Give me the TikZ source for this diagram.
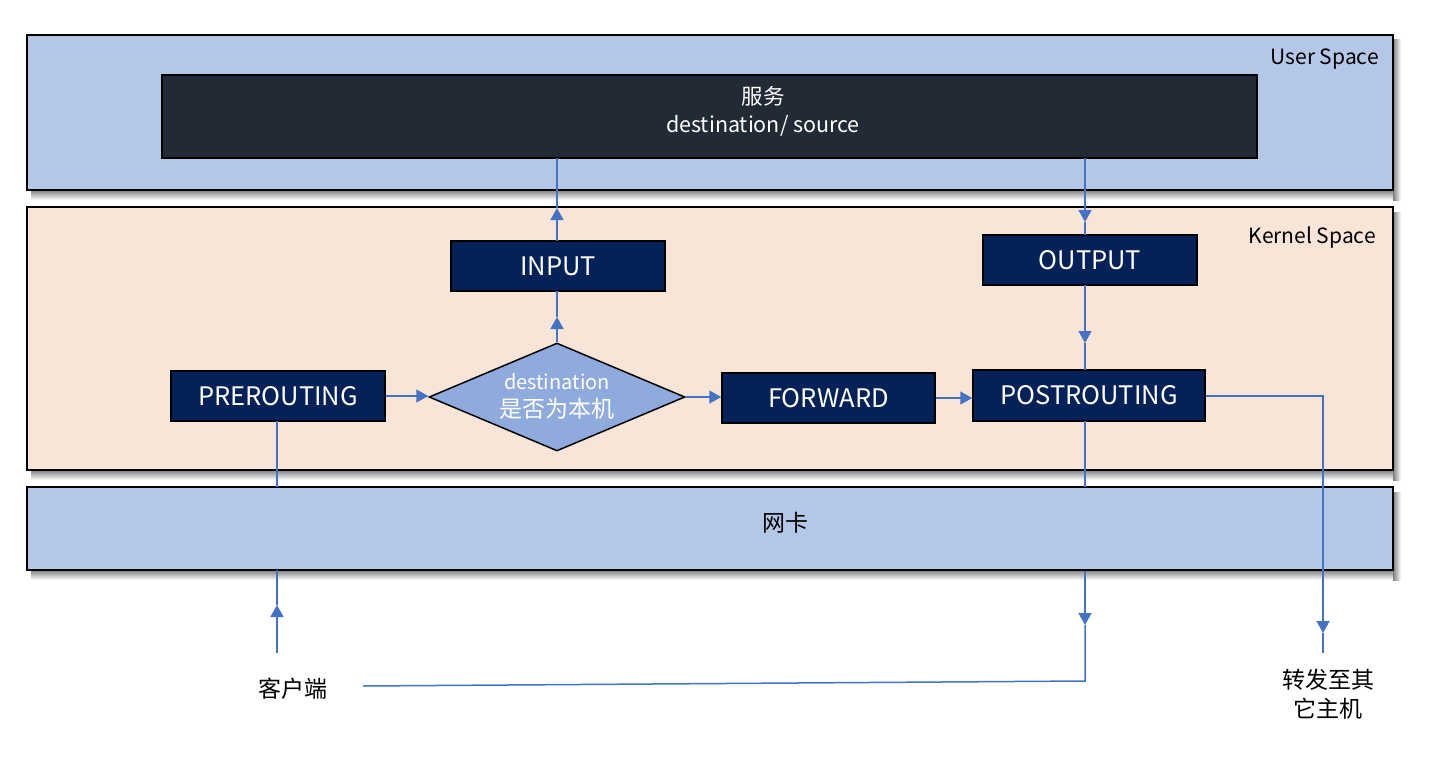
\documentclass[tikz,border=0pt]{standalone}
\usepackage{fontspec}
\setmainfont{Noto Sans CJK SC}
\usetikzlibrary{arrows.meta,shapes.geometric}
\definecolor{userbg}{HTML}{B4C7E7}
\definecolor{kernbg}{HTML}{F8E5D7}
\definecolor{navy}{HTML}{042158}
\definecolor{svcbg}{HTML}{222A35}
\definecolor{linkc}{HTML}{4472C4}
\definecolor{diambg}{HTML}{8FAADC}
\tikzset{
  layer/.style={draw=black, line width=1.5pt, rectangle, inner sep=0pt},
  navybox/.style={draw=black, line width=1.5pt, fill=navy, text=white, rectangle, inner sep=0pt,
                  minimum width=214pt, minimum height=50pt, font=\fontsize{25.5}{29}\selectfont},
  flow/.style={draw=linkc, line width=1.5pt},
  tip/.style={-{Triangle[width=13pt,length=12pt]}},
  lbl/.style={inner sep=0pt, font=\fontsize{21}{26}\selectfont},
  cjk/.style={inner sep=0pt, align=center, font=\fontsize{23}{29}\selectfont},
}
\newcommand{\shadowbox}[4]{%
  \shade[top color=black!50, bottom color=white] (#1+4,#4) rectangle (#3+7,#4+10);
  \shade[left color=black!50, right color=white] (#3,#2+5) rectangle (#3+8,#4+10);
}
\begin{document}
\begin{tikzpicture}[x=1pt,y=-1pt]
\useasboundingbox (0,0) rectangle (1434,768);
\fill[white] (0,0) rectangle (1434,768);

% shadows
\shadowbox{27}{35}{1393}{190}
\shadowbox{27}{207}{1393}{470}
\shadowbox{27}{487}{1393}{570}

% layers
\node[layer, fill=userbg, minimum width=1366pt, minimum height=155pt] (user) at (710,112.5) {};
\node[layer, fill=kernbg, minimum width=1366pt, minimum height=263pt] (kern) at (710,338.5) {};
\node[layer, fill=userbg, minimum width=1366pt, minimum height=83pt] (nic) at (710,528.5) {};

\node[lbl, anchor=east] (userlbl) at (1379,59) {User Space};
\node[lbl, anchor=east] (kernlbl) at (1376,238) {Kernel Space};
\node[cjk] (niclbl) at (785,523) {网卡};

% service
\node[draw=black, line width=1.5pt, fill=svcbg, rectangle, inner sep=0pt,
      minimum width=1095pt, minimum height=83pt] (svc) at (709.5,116.5) {};
\node[inner sep=0pt, align=center, text=white, font=\fontsize{21.5}{28}\selectfont] (svclbl) at (763,111)
  {服务\\destination/ source};

% chain boxes
\node[navybox] (input) at (558,266) {INPUT};
\node[navybox] (output) at (1090,260) {OUTPUT};
\node[navybox] (pre) at (278,396) {PREROUTING};
\node[navybox, minimum width=213pt] (fwd) at (828.5,398) {FORWARD};
\node[navybox, minimum width=232pt, minimum height=51pt] (post) at (1089,395.5) {POSTROUTING};
\node[diamond, draw=black, line width=1.5pt, fill=diambg, inner sep=0pt,
      minimum width=256pt, minimum height=108pt] (dec) at (557,397) {};
\node[inner sep=0pt, align=center, text=white, font=\fontsize{20}{28}\selectfont] (declbl) at (557,396)
  {destination\\{\fontsize{23}{28}\selectfont 是否为本机}};

% outside labels
\node[cjk] (client) at (293,689) {客户端};
\node[cjk] (other) at (1328,694) {转发至其\\它主机};

% coordinates
\coordinate (c0) at (277,653);
\coordinate (c1) at (277,605);
\coordinate (c2) at (277,570);
\coordinate (d1) at (557,317);
\coordinate (i1) at (557,208);
\coordinate (s0) at (1085,158);
\coordinate (s1) at (1085,222);
\coordinate (o1) at (1085,343);
\coordinate (n0) at (1085,571);
\coordinate (n1) at (1085,625);
\coordinate (n2) at (1085,681);
\coordinate (cl) at (363,686);
\coordinate (r0) at (1323,396);
\coordinate (r1) at (1323,633);
\coordinate (r2) at (1323,653);

% connectors
\draw[flow,tip] (c0) -- (c1);
\draw[flow] (c1) -- (c2);
\draw[flow] (277,421) -- (277,487);
\draw[flow,tip] (pre.east) -- (pre.east -| dec.west);
\draw[flow,tip] (dec.north) -- (d1);
\draw[flow] (d1) -- (557,291);
\draw[flow,tip] (557,241) -- (i1);
\draw[flow] (i1) -- (557,158);
\draw[flow,tip] (s0) -- (s1);
\draw[flow] (s1) -- (1085,235);
\draw[flow,tip] (1085,285) -- (o1);
\draw[flow] (o1) -- (1085,370);
\draw[flow,tip] (dec.east) -- (fwd.west |- dec.east);
\draw[flow,tip] (fwd.east) -- (post.west |- fwd.east);
\draw[flow] (1085,421) -- (1085,487);
\draw[flow,tip] (n0) -- (n1);
\draw[flow] (n1) -- (n2) -- (cl);
\draw[flow,tip] (post.east |- r0) -- (r0) -- (r1);
\draw[flow] (r1) -- (r2);
\end{tikzpicture}
\end{document}
